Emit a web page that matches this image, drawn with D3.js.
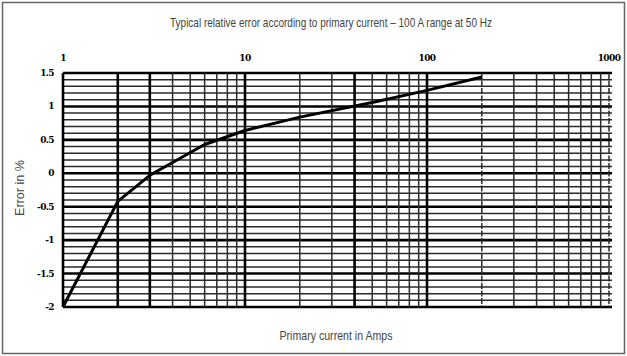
<!DOCTYPE html>
<html>
<head>
<meta charset="utf-8">
<script src="https://cdn.jsdelivr.net/npm/d3@7"></script>
<style>
  body { margin: 0; background: #fff; }
  svg { display: block; }
</style>
</head>
<body>
<div id="chart"></div>
<script>
// readings
const currents = [1, 2, 3, 6, 10, 20, 50, 100, 200];
const errors = [-2, -0.42, -0.03, 0.43, 0.64, 0.84, 1.06, 1.24, 1.44];
const xTickValues = [1, 10, 100, 1000];
const xTickLabels = ['1', '10', '100', '1000'];
const yTickValues = [1.5, 1, 0.5, 0, -0.5, -1, -1.5, -2];
const yTickLabels = ['1.5', '1', '0.5', '0', '-0.5', '-1', '-1.5', '-2'];

const width = 627, height = 356;
const plotLeft = 63, plotRight = 609, plotTop = 73, plotBottom = 307;

const svg = d3.select('#chart').append('svg')
  .attr('width', width)
  .attr('height', height);

svg.append('rect')
  .attr('x', 2.5).attr('y', 2.5)
  .attr('width', width - 5).attr('height', height - 5)
  .attr('fill', '#fff')
  .attr('stroke', '#666')
  .attr('stroke-width', 1.5);

const x = d3.scaleLog().domain([1, 1000]).range([plotLeft, plotRight]);
const y = d3.scaleLinear().domain([-2, 1.5]).range([plotBottom, plotTop]);

// minor grid: 1..9 per decade and every 0.1 %
const xGrid = [];
for (let d = 1; d < 1000; d *= 10) {
  for (let k = 1; k <= 9; k++) xGrid.push(d * k);
}
xGrid.push(1000);
const yGrid = d3.range(-20, 16).map(v => v / 10);
const isHalf = d => Math.abs(d * 2 - Math.round(d * 2)) < 1e-6;
const heavyX = [1, 2, 3, 10, 40, 100];

const grid = svg.append('g');
grid.selectAll('.hline')
  .data(yGrid)
  .enter().append('line')
    .attr('class', 'hline')
    .attr('x1', plotLeft)
    .attr('x2', plotRight + 3)
    .attr('y1', d => y(d))
    .attr('y2', d => y(d))
    .attr('stroke', d => isHalf(d) ? '#000' : '#2a2a2a')
    .attr('stroke-width', d => isHalf(d) ? 2.6 : 1.5);

grid.selectAll('.vline')
  .data(xGrid)
  .enter().append('line')
    .attr('class', 'vline')
    .attr('x1', d => x(d))
    .attr('x2', d => x(d))
    .attr('y1', plotTop)
    .attr('y2', plotBottom)
    .attr('stroke', d => heavyX.includes(d) ? '#000' : '#2a2a2a')
    .attr('stroke-width', d => heavyX.includes(d) ? 2.6 : 1.5)
    .attr('stroke-dasharray', d => d === 200 || d === 1000 ? '6,1.5' : null);

// curve
const line = d3.line()
  .x((d, i) => x(currents[i]))
  .y(d => y(d));

svg.append('path')
  .datum(errors)
  .attr('d', line)
  .attr('fill', 'none')
  .attr('stroke', '#000')
  .attr('stroke-width', 3)
  .attr('stroke-linejoin', 'round');

// tick labels
const tickFont = '"DejaVu Serif", serif';
svg.selectAll('.xlabel')
  .data(xTickValues)
  .enter().append('text')
    .attr('class', 'xlabel')
    .attr('x', d => x(d))
    .attr('y', 61)
    .attr('text-anchor', 'middle')
    .attr('font-family', tickFont)
    .attr('font-weight', 'bold')
    .attr('font-size', 9)
    .attr('letter-spacing', -0.6)
    .text((d, i) => xTickLabels[i]);

svg.selectAll('.ylabel')
  .data(yTickValues)
  .enter().append('text')
    .attr('class', 'ylabel')
    .attr('x', 54)
    .attr('y', d => y(d) + 3)
    .attr('text-anchor', 'end')
    .attr('font-family', tickFont)
    .attr('font-weight', 'bold')
    .attr('font-size', 9)
    .attr('letter-spacing', -0.6)
    .text((d, i) => yTickLabels[i]);

// titles
const labelFont = '"Liberation Sans Narrow", "Liberation Sans", Arial, sans-serif';
svg.append('text')
  .attr('x', 331)
  .attr('y', 27)
  .attr('text-anchor', 'middle')
  .attr('font-family', labelFont)
  .attr('font-size', 13)
  .attr('fill', '#444')
  .attr('textLength', 322)
  .attr('lengthAdjust', 'spacingAndGlyphs')
  .text('Typical relative error according to primary current \u2013 100 A range at 50 Hz');

svg.append('text')
  .attr('x', 336)
  .attr('y', 340)
  .attr('text-anchor', 'middle')
  .attr('font-family', labelFont)
  .attr('font-size', 13)
  .attr('fill', '#444')
  .attr('textLength', 113)
  .attr('lengthAdjust', 'spacingAndGlyphs')
  .text('Primary current in Amps');

svg.append('text')
  .attr('transform', 'translate(24,188) rotate(-90)')
  .attr('text-anchor', 'middle')
  .attr('font-family', labelFont)
  .attr('font-size', 13)
  .attr('fill', '#444')
  .attr('textLength', 56)
  .attr('lengthAdjust', 'spacingAndGlyphs')
  .text('Error in %');
</script>
</body>
</html>
